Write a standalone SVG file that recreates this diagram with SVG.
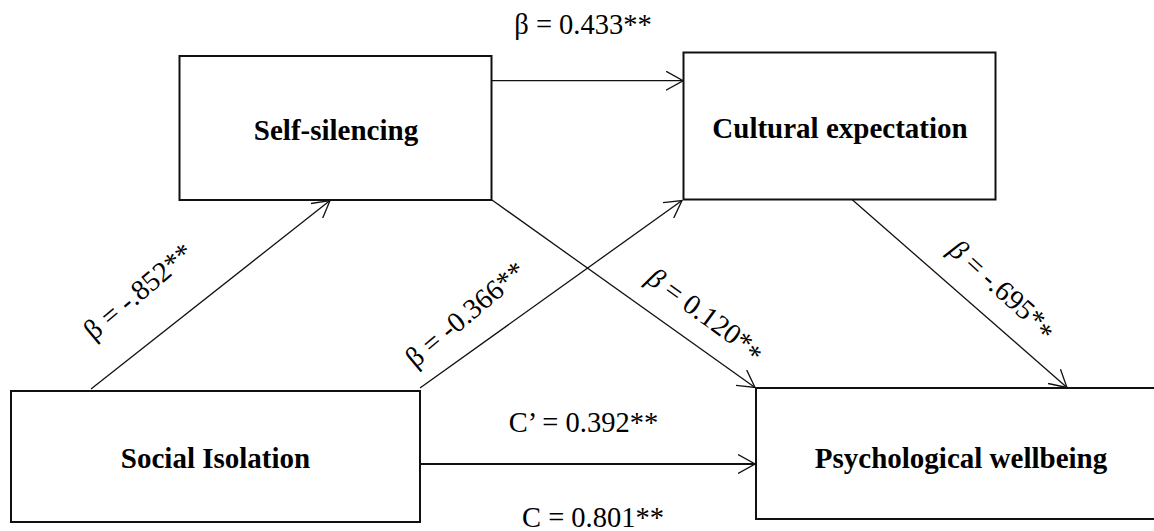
<svg xmlns="http://www.w3.org/2000/svg" width="1154" height="531" viewBox="0 0 1154 531">
<style>
.box{fill:#fff;stroke:#111;stroke-width:2}
.node{font-family:"Liberation Serif","Times New Roman",serif;font-weight:bold;font-size:29px;fill:#000;text-anchor:middle}
.lbl{font-family:"Liberation Serif","Times New Roman",serif;font-size:28.5px;fill:#000;text-anchor:middle}
.con{stroke:#111;stroke-width:1.3;fill:none;marker-end:url(#ah)}
.thick{stroke-width:2}
</style>
<defs>
<marker id="ah" markerUnits="userSpaceOnUse" viewBox="0 0 18 20" markerWidth="18" markerHeight="20" refX="17" refY="10" orient="auto">
<path d="M0,0.5 L17,10 L0,19.5" fill="none" stroke="#111" stroke-width="1.3"/>
</marker>
</defs>
<rect width="1154" height="531" fill="#fff"/>
<g id="connectors">
<line class="con" x1="492" y1="80.7" x2="683" y2="80.7"/>
<line class="con" x1="91" y1="389" x2="330" y2="200.5"/>
<line class="con" x1="420" y1="388" x2="682" y2="200.5"/>
<line class="con" x1="492" y1="200" x2="755" y2="387.5"/>
<line class="con" x1="852" y1="199.5" x2="1067" y2="387.5"/>
<line class="con thick" x1="420" y1="464" x2="755" y2="464"/>
</g>
<g id="self-silencing">
<rect class="box" x="179.5" y="56" width="312" height="144"/>
<text class="node" x="336" y="140">Self-silencing</text>
</g>
<g id="cultural-expectation">
<rect class="box" x="683.5" y="52.5" width="312" height="147"/>
<text class="node" x="840" y="138">Cultural expectation</text>
</g>
<g id="social-isolation">
<rect class="box" x="11" y="391" width="409" height="131"/>
<text class="node" x="215.5" y="468">Social Isolation</text>
</g>
<g id="psychological-wellbeing">
<rect class="box" x="756" y="388" width="420" height="131"/>
<text class="node" x="961" y="468">Psychological wellbeing</text>
</g>
<g id="labels">
<text class="lbl" x="583" y="34">β = 0.433**</text>
<text class="lbl" x="583.5" y="432">C’ = 0.392**</text>
<text class="lbl" x="593" y="527">C = 0.801**</text>
<text class="lbl" transform="translate(138,291) rotate(-40)" dy="0.35em">β = -.852**</text>
<text class="lbl" transform="translate(465,314) rotate(-40)" dy="0.35em">β = -0.366**</text>
<text class="lbl" transform="translate(706,314) rotate(36)" dy="0.35em"><tspan font-style="italic">β</tspan> = 0.120*<tspan dy="5">*</tspan></text>
<text class="lbl" transform="translate(1003,289) rotate(42)" dy="0.35em"><tspan font-style="italic">β</tspan> = -.695*<tspan dy="5">*</tspan></text>
</g>
</svg>
